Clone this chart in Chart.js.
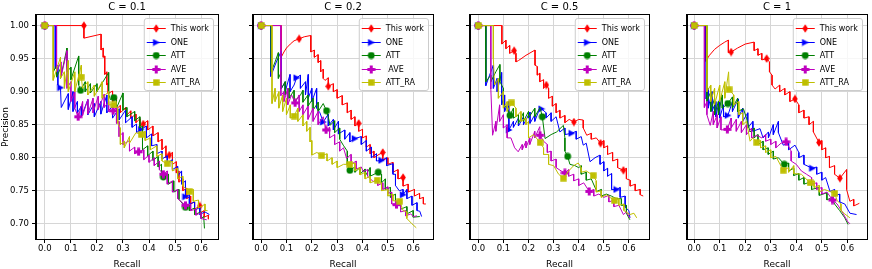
<!DOCTYPE html>
<html>
<head>
<meta charset="utf-8">
<script src="https://cdn.jsdelivr.net/npm/chart.js@4.4.1/dist/chart.umd.min.js"></script>
<style>
  body { margin: 0; background: #fff; }
  #wrap { position: relative; width: 872px; height: 269px; overflow: hidden; }
  #wrap canvas { position: absolute; top: 0; }
</style>
</head>
<body>
<div id="wrap">
  <canvas id="p0" width="224" height="269" style="left:0px"></canvas>
  <canvas id="p1" width="190" height="269" style="left:247px"></canvas>
  <canvas id="p2" width="189" height="269" style="left:464px"></canvas>
  <canvas id="p3" width="190" height="269" style="left:681px"></canvas>
</div>
<script>
// ---- data (recall, precision) ----
const panelTitles = ['C = 0.1', 'C = 0.2', 'C = 0.5', 'C = 1'];
const seriesNames = ['This work', 'ONE', 'ATT', 'AVE', 'ATT_RA'];
const seriesNamesC02 = ['This work', 'ONE', 'ATT', ' AVE', 'ATT_RA'];
const xTicks = [0.0, 0.1, 0.2, 0.3, 0.4, 0.5, 0.6];
const yTicks = [0.70, 0.75, 0.80, 0.85, 0.90, 0.95, 1.00];

// C = 0.1
const c01_thisWork = [[0,1],[0.15,1],[0.15,0.981],[0.216,0.987],[0.216,0.963],[0.224,0.966],[0.224,0.952],[0.23,0.954],[0.23,0.926],[0.238,0.93],[0.238,0.91],[0.243,0.913],[0.243,0.897],[0.26,0.901],[0.26,0.885],[0.275,0.89],[0.275,0.874],[0.29,0.879],[0.29,0.868],[0.31,0.876],[0.31,0.862],[0.33,0.871],[0.33,0.86],[0.35,0.866],[0.35,0.853],[0.365,0.859],[0.365,0.848],[0.378,0.851],[0.395,0.856],[0.395,0.842],[0.415,0.848],[0.415,0.833],[0.435,0.838],[0.435,0.824],[0.45,0.828],[0.45,0.812],[0.465,0.818],[0.465,0.8],[0.478,0.804],[0.49,0.808],[0.49,0.79],[0.505,0.794],[0.505,0.777],[0.515,0.78],[0.515,0.763],[0.53,0.768],[0.53,0.75],[0.545,0.754],[0.545,0.738],[0.56,0.742],[0.56,0.73],[0.575,0.733],[0.575,0.722],[0.595,0.727],[0.595,0.716],[0.612,0.72],[0.612,0.71],[0.628,0.713],[0.628,0.707]];
const c01_one = [[0,1],[0.04,1],[0.04,0.935],[0.05,0.94],[0.05,0.91],[0.06,0.906],[0.063,0.876],[0.09,0.897],[0.09,0.873],[0.108,0.9],[0.108,0.87],[0.125,0.885],[0.125,0.868],[0.14,0.878],[0.14,0.862],[0.165,0.888],[0.165,0.865],[0.19,0.882],[0.19,0.862],[0.215,0.885],[0.215,0.866],[0.238,0.895],[0.238,0.868],[0.26,0.878],[0.26,0.86],[0.285,0.874],[0.285,0.857],[0.31,0.872],[0.31,0.853],[0.335,0.862],[0.335,0.846],[0.352,0.851],[0.352,0.838],[0.37,0.843],[0.39,0.848],[0.39,0.83],[0.41,0.836],[0.41,0.818],[0.43,0.82],[0.43,0.806],[0.45,0.81],[0.45,0.798],[0.47,0.803],[0.47,0.792],[0.49,0.797],[0.49,0.782],[0.51,0.787],[0.51,0.772],[0.525,0.78],[0.525,0.76],[0.54,0.765],[0.54,0.741],[0.555,0.744],[0.555,0.73],[0.575,0.733],[0.575,0.72],[0.595,0.725],[0.595,0.714],[0.615,0.718],[0.632,0.714]];
const c01_att = [[0,1],[0.033,1],[0.033,0.93],[0.045,0.94],[0.045,0.922],[0.06,0.935],[0.06,0.92],[0.085,0.966],[0.085,0.93],[0.1,0.937],[0.1,0.918],[0.13,0.954],[0.13,0.91],[0.137,0.902],[0.155,0.915],[0.155,0.9],[0.175,0.912],[0.175,0.898],[0.2,0.912],[0.2,0.9],[0.245,0.929],[0.245,0.896],[0.252,0.888],[0.265,0.891],[0.275,0.887],[0.275,0.875],[0.3,0.898],[0.3,0.872],[0.315,0.876],[0.315,0.862],[0.345,0.87],[0.345,0.856],[0.365,0.862],[0.365,0.845],[0.375,0.848],[0.375,0.812],[0.395,0.818],[0.395,0.803],[0.415,0.81],[0.415,0.796],[0.435,0.802],[0.435,0.786],[0.448,0.79],[0.448,0.772],[0.455,0.771],[0.475,0.775],[0.475,0.76],[0.495,0.765],[0.495,0.748],[0.515,0.752],[0.515,0.737],[0.54,0.725],[0.555,0.728],[0.555,0.72],[0.575,0.724],[0.575,0.714],[0.6,0.718],[0.6,0.708],[0.61,0.711],[0.613,0.693]];
const c01_ave = [[0,1],[0.045,1],[0.045,0.93],[0.062,0.945],[0.062,0.922],[0.085,0.962],[0.085,0.905],[0.1,0.915],[0.1,0.885],[0.115,0.9],[0.115,0.875],[0.128,0.862],[0.145,0.885],[0.145,0.864],[0.165,0.888],[0.165,0.866],[0.185,0.89],[0.185,0.868],[0.205,0.893],[0.205,0.873],[0.228,0.896],[0.228,0.876],[0.245,0.885],[0.245,0.87],[0.262,0.871],[0.275,0.876],[0.275,0.852],[0.285,0.855],[0.285,0.832],[0.3,0.838],[0.3,0.82],[0.325,0.826],[0.325,0.81],[0.345,0.816],[0.345,0.806],[0.36,0.809],[0.38,0.812],[0.38,0.797],[0.4,0.804],[0.4,0.793],[0.42,0.8],[0.42,0.788],[0.44,0.795],[0.44,0.782],[0.455,0.775],[0.47,0.78],[0.47,0.76],[0.49,0.765],[0.49,0.748],[0.51,0.752],[0.51,0.738],[0.54,0.728],[0.56,0.73],[0.56,0.72],[0.58,0.722],[0.58,0.713],[0.6,0.717],[0.6,0.708],[0.622,0.706]];
const c01_attRa = [[0,1],[0.032,1],[0.032,0.917],[0.06,0.952],[0.06,0.92],[0.075,0.93],[0.075,0.905],[0.09,0.947],[0.09,0.9],[0.115,0.93],[0.115,0.9],[0.14,0.94],[0.14,0.922],[0.145,0.905],[0.165,0.915],[0.165,0.895],[0.19,0.91],[0.19,0.893],[0.22,0.915],[0.22,0.89],[0.245,0.9],[0.245,0.88],[0.265,0.88],[0.28,0.874],[0.28,0.852],[0.29,0.845],[0.29,0.82],[0.305,0.825],[0.305,0.815],[0.325,0.832],[0.325,0.822],[0.35,0.838],[0.37,0.835],[0.385,0.84],[0.385,0.826],[0.405,0.83],[0.405,0.812],[0.43,0.818],[0.43,0.802],[0.45,0.806],[0.45,0.795],[0.47,0.791],[0.49,0.795],[0.49,0.78],[0.51,0.784],[0.51,0.768],[0.53,0.772],[0.53,0.757],[0.555,0.749],[0.57,0.752],[0.57,0.734],[0.59,0.736],[0.59,0.724],[0.605,0.727],[0.615,0.73],[0.615,0.72],[0.625,0.72]];
const c01_marks = [
  [[0,1],[0.15,1],[0.378,0.851],[0.478,0.804],[0.595,0.727]],
  [[0,1],[0.06,0.906],[0.37,0.843],[0.54,0.741]],
  [[0,1],[0.137,0.902],[0.265,0.891],[0.455,0.771],[0.54,0.725]],
  [[0,1],[0.128,0.862],[0.262,0.871],[0.36,0.809],[0.455,0.775],[0.54,0.728]],
  [[0,1],[0.14,0.922],[0.265,0.88],[0.37,0.835],[0.47,0.791],[0.555,0.749]]
];

// C = 0.2
const c02_thisWork = [[0,1],[0.079,1],[0.079,0.952],[0.09,0.96],[0.1,0.966],[0.115,0.972],[0.13,0.977],[0.15,0.98],[0.17,0.983],[0.196,0.985],[0.196,0.96],[0.21,0.963],[0.21,0.952],[0.225,0.956],[0.225,0.944],[0.235,0.947],[0.235,0.93],[0.245,0.934],[0.245,0.92],[0.252,0.917],[0.265,0.921],[0.265,0.908],[0.285,0.912],[0.285,0.9],[0.3,0.903],[0.3,0.89],[0.32,0.894],[0.32,0.88],[0.34,0.883],[0.34,0.868],[0.355,0.872],[0.355,0.858],[0.37,0.862],[0.37,0.848],[0.385,0.852],[0.385,0.84],[0.4,0.843],[0.4,0.83],[0.415,0.833],[0.415,0.816],[0.43,0.82],[0.43,0.806],[0.445,0.81],[0.445,0.8],[0.465,0.805],[0.48,0.808],[0.48,0.796],[0.5,0.8],[0.5,0.79],[0.52,0.793],[0.52,0.778],[0.54,0.782],[0.54,0.768],[0.56,0.77],[0.56,0.757],[0.58,0.76],[0.58,0.748],[0.605,0.752],[0.605,0.742],[0.625,0.746],[0.625,0.738],[0.64,0.74],[0.64,0.73],[0.65,0.73]];
const c02_one = [[0,1],[0.038,1],[0.038,0.923],[0.06,0.945],[0.079,0.961],[0.079,0.904],[0.095,0.915],[0.095,0.9],[0.114,0.926],[0.114,0.9],[0.13,0.91],[0.14,0.921],[0.155,0.925],[0.155,0.905],[0.175,0.915],[0.175,0.895],[0.186,0.926],[0.186,0.89],[0.2,0.905],[0.2,0.885],[0.219,0.905],[0.219,0.875],[0.232,0.868],[0.245,0.854],[0.265,0.866],[0.265,0.848],[0.285,0.858],[0.285,0.842],[0.305,0.855],[0.305,0.836],[0.33,0.842],[0.33,0.828],[0.35,0.838],[0.35,0.824],[0.37,0.829],[0.395,0.832],[0.395,0.82],[0.415,0.826],[0.415,0.81],[0.435,0.816],[0.435,0.8],[0.455,0.806],[0.455,0.795],[0.475,0.796],[0.495,0.8],[0.495,0.788],[0.52,0.791],[0.52,0.775],[0.53,0.775],[0.53,0.758],[0.545,0.75],[0.56,0.752],[0.56,0.744],[0.575,0.752],[0.575,0.738],[0.595,0.742],[0.595,0.728],[0.615,0.732],[0.615,0.72],[0.626,0.719],[0.633,0.711]];
const c02_att = [[0,1],[0.04,1],[0.04,0.93],[0.055,0.945],[0.068,0.959],[0.068,0.92],[0.08,0.93],[0.08,0.905],[0.095,0.915],[0.095,0.895],[0.11,0.905],[0.11,0.89],[0.13,0.902],[0.13,0.885],[0.154,0.894],[0.165,0.902],[0.165,0.884],[0.185,0.895],[0.185,0.878],[0.205,0.89],[0.205,0.872],[0.225,0.884],[0.225,0.87],[0.245,0.882],[0.258,0.871],[0.265,0.862],[0.272,0.849],[0.29,0.856],[0.29,0.838],[0.31,0.845],[0.31,0.828],[0.324,0.819],[0.34,0.81],[0.34,0.79],[0.35,0.781],[0.37,0.786],[0.37,0.778],[0.39,0.785],[0.39,0.775],[0.41,0.783],[0.41,0.772],[0.43,0.785],[0.43,0.772],[0.462,0.778],[0.475,0.775],[0.475,0.762],[0.49,0.768],[0.49,0.752],[0.51,0.755],[0.51,0.74],[0.53,0.745],[0.53,0.73],[0.55,0.734],[0.55,0.722],[0.575,0.726],[0.575,0.715],[0.6,0.72],[0.6,0.71],[0.626,0.711]];
const c02_ave = [[0,1],[0.078,1],[0.078,0.894],[0.09,0.9],[0.09,0.885],[0.105,0.905],[0.105,0.88],[0.12,0.895],[0.134,0.883],[0.15,0.895],[0.15,0.87],[0.165,0.88],[0.165,0.865],[0.185,0.878],[0.185,0.858],[0.205,0.875],[0.205,0.855],[0.225,0.87],[0.225,0.85],[0.245,0.862],[0.256,0.842],[0.27,0.846],[0.27,0.83],[0.29,0.835],[0.29,0.82],[0.31,0.824],[0.31,0.81],[0.325,0.815],[0.337,0.799],[0.355,0.805],[0.355,0.79],[0.375,0.795],[0.375,0.783],[0.395,0.786],[0.403,0.779],[0.42,0.782],[0.42,0.772],[0.442,0.764],[0.46,0.768],[0.46,0.758],[0.48,0.762],[0.48,0.752],[0.5,0.756],[0.5,0.746],[0.515,0.748],[0.515,0.73],[0.534,0.729],[0.55,0.73],[0.55,0.718],[0.57,0.72],[0.57,0.712],[0.59,0.715],[0.6,0.711],[0.615,0.712]];
const c02_attRa = [[0,1],[0.043,1],[0.043,0.882],[0.055,0.905],[0.055,0.885],[0.07,0.9],[0.07,0.875],[0.085,0.895],[0.085,0.87],[0.1,0.89],[0.1,0.865],[0.115,0.88],[0.115,0.86],[0.13,0.863],[0.145,0.875],[0.145,0.855],[0.165,0.865],[0.165,0.848],[0.18,0.855],[0.18,0.84],[0.193,0.846],[0.193,0.824],[0.2,0.826],[0.2,0.804],[0.22,0.808],[0.239,0.803],[0.26,0.806],[0.26,0.795],[0.28,0.8],[0.28,0.79],[0.3,0.795],[0.3,0.785],[0.325,0.79],[0.35,0.79],[0.37,0.792],[0.37,0.78],[0.39,0.785],[0.39,0.774],[0.41,0.778],[0.41,0.768],[0.43,0.772],[0.43,0.762],[0.458,0.766],[0.475,0.762],[0.475,0.75],[0.5,0.752],[0.5,0.742],[0.52,0.745],[0.52,0.735],[0.547,0.734],[0.56,0.72],[0.575,0.718],[0.575,0.708],[0.595,0.7],[0.612,0.694]];
const c02_marks = [
  [[0,1],[0.15,0.98],[0.265,0.908],[0.385,0.852],[0.48,0.808],[0.56,0.77]],
  [[0,1],[0.14,0.921],[0.245,0.854],[0.37,0.829],[0.475,0.796],[0.56,0.744]],
  [[0,1],[0.258,0.871],[0.35,0.781],[0.462,0.778]],
  [[0,1],[0.134,0.883],[0.256,0.842],[0.534,0.729]],
  [[0,1],[0.13,0.863],[0.239,0.803],[0.35,0.79],[0.458,0.766],[0.547,0.734]]
];

// C = 0.5
const c05_thisWork = [[0,1],[0.094,1],[0.094,0.972],[0.11,0.978],[0.11,0.965],[0.125,0.97],[0.125,0.958],[0.143,0.962],[0.15,0.958],[0.15,0.945],[0.16,0.947],[0.19,0.955],[0.226,0.963],[0.226,0.94],[0.235,0.938],[0.235,0.925],[0.245,0.928],[0.245,0.915],[0.26,0.918],[0.26,0.905],[0.271,0.91],[0.28,0.905],[0.28,0.89],[0.295,0.893],[0.295,0.878],[0.31,0.882],[0.31,0.868],[0.325,0.872],[0.325,0.86],[0.345,0.864],[0.345,0.853],[0.362,0.858],[0.381,0.854],[0.4,0.858],[0.418,0.857],[0.418,0.845],[0.432,0.834],[0.45,0.837],[0.45,0.828],[0.47,0.83],[0.487,0.822],[0.5,0.826],[0.5,0.815],[0.515,0.818],[0.515,0.805],[0.535,0.808],[0.535,0.795],[0.555,0.798],[0.555,0.785],[0.578,0.781],[0.59,0.784],[0.59,0.768],[0.605,0.766],[0.605,0.757],[0.625,0.76],[0.625,0.75],[0.645,0.752],[0.645,0.744],[0.657,0.742]];
const c05_one = [[0,1],[0.03,1],[0.03,0.909],[0.045,0.925],[0.06,0.94],[0.06,0.905],[0.075,0.92],[0.075,0.9],[0.093,0.929],[0.093,0.88],[0.105,0.895],[0.105,0.87],[0.12,0.885],[0.122,0.842],[0.14,0.855],[0.14,0.846],[0.16,0.86],[0.16,0.848],[0.18,0.862],[0.18,0.85],[0.206,0.869],[0.206,0.852],[0.225,0.865],[0.225,0.855],[0.24,0.87],[0.252,0.874],[0.27,0.868],[0.27,0.86],[0.29,0.868],[0.29,0.855],[0.31,0.862],[0.325,0.839],[0.345,0.845],[0.345,0.835],[0.372,0.837],[0.39,0.84],[0.39,0.828],[0.41,0.832],[0.418,0.819],[0.43,0.822],[0.445,0.794],[0.465,0.8],[0.485,0.804],[0.485,0.79],[0.5,0.794],[0.5,0.78],[0.515,0.784],[0.515,0.772],[0.531,0.776],[0.531,0.752],[0.551,0.752],[0.565,0.755],[0.565,0.74],[0.585,0.742],[0.585,0.725],[0.6,0.72],[0.604,0.709]];
const c05_att = [[0,1],[0.03,1],[0.03,0.915],[0.05,0.925],[0.05,0.915],[0.07,0.93],[0.086,0.941],[0.086,0.915],[0.1,0.905],[0.1,0.88],[0.115,0.875],[0.126,0.864],[0.14,0.875],[0.14,0.86],[0.16,0.865],[0.16,0.852],[0.18,0.868],[0.18,0.855],[0.2,0.87],[0.2,0.86],[0.225,0.875],[0.225,0.862],[0.246,0.876],[0.255,0.862],[0.266,0.829],[0.29,0.835],[0.312,0.839],[0.339,0.849],[0.345,0.83],[0.345,0.81],[0.356,0.802],[0.365,0.79],[0.385,0.788],[0.4,0.785],[0.41,0.788],[0.41,0.775],[0.43,0.778],[0.43,0.766],[0.45,0.768],[0.472,0.749],[0.49,0.752],[0.49,0.742],[0.51,0.745],[0.53,0.742],[0.55,0.738],[0.57,0.738],[0.57,0.728],[0.59,0.728],[0.59,0.716],[0.604,0.706]];
const c05_ave = [[0,1],[0.05,1],[0.05,0.904],[0.057,0.834],[0.07,0.855],[0.07,0.84],[0.085,0.88],[0.085,0.855],[0.1,0.865],[0.1,0.845],[0.115,0.85],[0.115,0.83],[0.13,0.83],[0.145,0.815],[0.159,0.809],[0.175,0.82],[0.175,0.812],[0.19,0.825],[0.19,0.815],[0.205,0.83],[0.205,0.82],[0.225,0.84],[0.225,0.83],[0.245,0.847],[0.246,0.834],[0.26,0.825],[0.275,0.82],[0.275,0.808],[0.29,0.81],[0.29,0.795],[0.31,0.798],[0.31,0.785],[0.33,0.78],[0.345,0.777],[0.36,0.782],[0.36,0.772],[0.38,0.775],[0.38,0.765],[0.4,0.768],[0.4,0.758],[0.42,0.762],[0.442,0.749],[0.46,0.752],[0.46,0.742],[0.48,0.745],[0.5,0.74],[0.52,0.743],[0.52,0.733],[0.54,0.736],[0.54,0.726],[0.56,0.728],[0.578,0.714],[0.59,0.718],[0.604,0.709]];
const c05_attRa = [[0,1],[0.06,1],[0.06,0.95],[0.065,0.91],[0.08,0.92],[0.08,0.89],[0.1,0.9],[0.1,0.875],[0.115,0.885],[0.115,0.87],[0.133,0.883],[0.15,0.875],[0.15,0.862],[0.17,0.87],[0.17,0.855],[0.19,0.86],[0.19,0.85],[0.2,0.855],[0.2,0.83],[0.22,0.835],[0.246,0.823],[0.26,0.815],[0.26,0.805],[0.28,0.805],[0.28,0.79],[0.3,0.788],[0.32,0.775],[0.339,0.769],[0.36,0.78],[0.38,0.788],[0.398,0.792],[0.41,0.785],[0.41,0.778],[0.43,0.78],[0.458,0.773],[0.47,0.765],[0.47,0.748],[0.49,0.75],[0.49,0.74],[0.51,0.744],[0.542,0.735],[0.56,0.738],[0.56,0.728],[0.58,0.73],[0.58,0.72],[0.604,0.714],[0.62,0.716],[0.631,0.709]];
const c05_marks = [
  [[0,1],[0.143,0.962],[0.271,0.91],[0.381,0.854],[0.487,0.822],[0.578,0.781]],
  [[0,1],[0.122,0.842],[0.252,0.874],[0.372,0.837],[0.551,0.752]],
  [[0,1],[0.126,0.864],[0.255,0.862],[0.356,0.802]],
  [[0,1],[0.246,0.834],[0.345,0.777],[0.442,0.749]],
  [[0,1],[0.133,0.883],[0.246,0.823],[0.339,0.769],[0.458,0.773],[0.542,0.735]]
];

// C = 1
const c1_thisWork = [[0,1],[0.045,1],[0.045,0.946],[0.06,0.955],[0.08,0.964],[0.1,0.97],[0.12,0.975],[0.134,0.978],[0.134,0.959],[0.145,0.96],[0.17,0.966],[0.2,0.972],[0.235,0.975],[0.235,0.962],[0.25,0.965],[0.25,0.955],[0.265,0.958],[0.265,0.948],[0.284,0.95],[0.295,0.945],[0.295,0.93],[0.305,0.925],[0.305,0.91],[0.317,0.904],[0.335,0.91],[0.335,0.9],[0.355,0.905],[0.355,0.895],[0.375,0.9],[0.375,0.885],[0.395,0.889],[0.41,0.88],[0.41,0.868],[0.43,0.872],[0.43,0.86],[0.45,0.862],[0.45,0.85],[0.467,0.855],[0.467,0.839],[0.489,0.823],[0.5,0.826],[0.5,0.812],[0.515,0.815],[0.515,0.8],[0.53,0.802],[0.53,0.785],[0.55,0.788],[0.55,0.775],[0.571,0.769],[0.597,0.782],[0.597,0.752],[0.61,0.734],[0.625,0.737],[0.625,0.727],[0.647,0.731]];
const c1_one = [[0,1],[0.047,1],[0.047,0.889],[0.055,0.905],[0.055,0.875],[0.07,0.9],[0.07,0.87],[0.085,0.885],[0.085,0.862],[0.1,0.89],[0.1,0.86],[0.115,0.88],[0.115,0.862],[0.132,0.864],[0.15,0.885],[0.15,0.87],[0.173,0.889],[0.173,0.86],[0.19,0.875],[0.19,0.855],[0.21,0.868],[0.21,0.845],[0.23,0.855],[0.23,0.84],[0.258,0.844],[0.27,0.83],[0.291,0.839],[0.291,0.83],[0.31,0.85],[0.31,0.835],[0.33,0.855],[0.33,0.838],[0.349,0.819],[0.37,0.822],[0.37,0.812],[0.395,0.819],[0.41,0.808],[0.41,0.8],[0.43,0.804],[0.43,0.79],[0.463,0.784],[0.48,0.786],[0.48,0.775],[0.5,0.778],[0.5,0.766],[0.515,0.77],[0.532,0.749],[0.55,0.752],[0.55,0.742],[0.57,0.745],[0.57,0.733],[0.59,0.73],[0.61,0.716],[0.636,0.714]];
const c1_att = [[0,1],[0.05,1],[0.05,0.885],[0.065,0.9],[0.065,0.87],[0.08,0.89],[0.08,0.865],[0.095,0.885],[0.095,0.865],[0.11,0.895],[0.11,0.875],[0.132,0.882],[0.15,0.892],[0.15,0.875],[0.17,0.89],[0.17,0.87],[0.193,0.874],[0.205,0.86],[0.219,0.839],[0.235,0.845],[0.235,0.83],[0.25,0.835],[0.25,0.82],[0.27,0.825],[0.27,0.812],[0.29,0.815],[0.29,0.805],[0.31,0.81],[0.31,0.798],[0.33,0.8],[0.353,0.79],[0.37,0.792],[0.37,0.78],[0.39,0.784],[0.39,0.773],[0.41,0.776],[0.41,0.766],[0.43,0.77],[0.43,0.76],[0.46,0.764],[0.46,0.752],[0.49,0.755],[0.49,0.743],[0.52,0.747],[0.52,0.736],[0.54,0.74],[0.55,0.73],[0.57,0.72],[0.59,0.709],[0.603,0.699]];
const c1_ave = [[0,1],[0.04,1],[0.04,0.876],[0.05,0.885],[0.05,0.865],[0.063,0.849],[0.075,0.87],[0.075,0.85],[0.09,0.865],[0.09,0.845],[0.105,0.862],[0.105,0.842],[0.13,0.843],[0.145,0.86],[0.145,0.845],[0.165,0.858],[0.165,0.84],[0.185,0.855],[0.185,0.838],[0.205,0.85],[0.205,0.835],[0.225,0.845],[0.225,0.83],[0.245,0.834],[0.265,0.83],[0.28,0.835],[0.28,0.825],[0.3,0.828],[0.3,0.82],[0.32,0.825],[0.32,0.815],[0.34,0.822],[0.36,0.824],[0.38,0.81],[0.38,0.795],[0.4,0.79],[0.42,0.78],[0.44,0.775],[0.46,0.77],[0.46,0.76],[0.48,0.762],[0.48,0.752],[0.5,0.755],[0.5,0.745],[0.52,0.748],[0.542,0.736],[0.56,0.73],[0.58,0.718],[0.6,0.704],[0.61,0.7]];
const c1_attRa = [[0,1],[0.05,1],[0.05,0.9],[0.065,0.91],[0.065,0.885],[0.08,0.905],[0.08,0.88],[0.1,0.91],[0.1,0.885],[0.12,0.915],[0.12,0.89],[0.135,0.93],[0.137,0.903],[0.155,0.895],[0.155,0.88],[0.175,0.885],[0.175,0.865],[0.19,0.868],[0.19,0.85],[0.205,0.855],[0.219,0.825],[0.23,0.83],[0.245,0.823],[0.26,0.826],[0.26,0.815],[0.28,0.818],[0.28,0.808],[0.3,0.812],[0.3,0.8],[0.32,0.802],[0.349,0.781],[0.37,0.785],[0.37,0.778],[0.39,0.788],[0.39,0.776],[0.42,0.775],[0.454,0.762],[0.47,0.765],[0.47,0.755],[0.49,0.758],[0.49,0.748],[0.51,0.752],[0.551,0.746],[0.56,0.735],[0.575,0.73],[0.575,0.72],[0.59,0.715],[0.61,0.709]];
const c1_marks = [
  [[0,1],[0.145,0.96],[0.284,0.95],[0.395,0.889],[0.489,0.823],[0.571,0.769]],
  [[0,1],[0.132,0.864],[0.463,0.784]],
  [[0,1],[0.132,0.882],[0.353,0.79]],
  [[0,1],[0.13,0.843],[0.36,0.824],[0.542,0.736]],
  [[0,1],[0.137,0.903],[0.245,0.823],[0.349,0.781],[0.454,0.762],[0.551,0.746]]
];

// ---- styling ----
const colors = ['#ff0000', '#0000ff', '#008000', '#bf00bf', '#bfbf00'];
const shapes = ['thinDiamond', 'triangleRight', 'circle', 'plus', 'square'];
const FONT = 'DejaVu Sans';

Chart.defaults.font.family = FONT;
Chart.defaults.animation = false;

function makeMarker(shape, color) {
  const c = document.createElement('canvas');
  const size = { thinDiamond: [6, 9], triangleRight: [8, 8], circle: [8, 8], plus: [9, 9], square: [7, 7] }[shape];
  c.width = size[0]; c.height = size[1];
  const g = c.getContext('2d');
  g.fillStyle = color;
  g.beginPath();
  if (shape === 'thinDiamond') {
    g.moveTo(3, 0.3); g.lineTo(5.8, 4.5); g.lineTo(3, 8.7); g.lineTo(0.2, 4.5);
  } else if (shape === 'triangleRight') {
    g.moveTo(0.8, 0.5); g.lineTo(7.6, 4); g.lineTo(0.8, 7.5);
  } else if (shape === 'circle') {
    g.arc(4, 4, 3.4, 0, Math.PI * 2);
  } else if (shape === 'plus') {
    g.rect(3, 0.5, 3, 8); g.rect(0.5, 3, 8, 3);
  } else {
    g.rect(0.3, 0.3, 6.4, 6.4);
  }
  g.closePath();
  g.fill();
  return c;
}
const markers = shapes.map((s, i) => makeMarker(s, colors[i]));

const panels = [
  { id: 'p0', title: panelTitles[0], names: seriesNames,
    lines: [c01_thisWork, c01_one, c01_att, c01_ave, c01_attRa], marks: c01_marks,
    xMin: -0.034, xMax: 0.665, yAxisW: 36, padRight: 6, first: true },
  { id: 'p1', title: panelTitles[1], names: seriesNamesC02,
    lines: [c02_thisWork, c02_one, c02_att, c02_ave, c02_attRa], marks: c02_marks,
    xMin: -0.032, xMax: 0.678, yAxisW: 6, padRight: 4, first: false },
  { id: 'p2', title: panelTitles[2], names: seriesNames,
    lines: [c05_thisWork, c05_one, c05_att, c05_ave, c05_attRa], marks: c05_marks,
    xMin: -0.033, xMax: 0.68, yAxisW: 6, padRight: 4, first: false },
  { id: 'p3', title: panelTitles[3], names: seriesNames,
    lines: [c1_thisWork, c1_one, c1_att, c1_ave, c1_attRa], marks: c1_marks,
    xMin: -0.028, xMax: 0.677, yAxisW: 6, padRight: 4, first: false }
];

// frame, title and the legend box inside the axes
const framePlugin = {
  id: 'frame',
  afterDraw(chart, args, opts) {
    const { ctx, chartArea: a } = chart;
    ctx.save();
    ctx.strokeStyle = '#000';
    ctx.lineWidth = 1;
    ctx.strokeRect(Math.round(a.left) - 0.5, Math.round(a.top) - 0.5,
                   Math.round(a.right - a.left) + 1, Math.round(a.bottom - a.top) + 1);

    ctx.fillStyle = '#000';
    ctx.font = '10px "' + FONT + '"';
    ctx.textAlign = 'center';
    ctx.textBaseline = 'middle';
    ctx.fillText(opts.title, (a.left + a.right) / 2, 7.5);

    // legend
    ctx.font = '8px "' + FONT + '"';
    const names = opts.names;
    const tw = Math.max(...names.map(n => ctx.measureText(n).width));
    const w = tw + 31, h = 72;
    const x0 = a.right - 5 - w, y0 = a.top + 3;
    ctx.beginPath();
    ctx.roundRect(x0 + 0.5, y0 + 0.5, w, h, 2.5);
    ctx.fillStyle = 'rgba(255,255,255,0.8)';
    ctx.fill();
    ctx.strokeStyle = '#cccccc';
    ctx.stroke();
    names.forEach((n, i) => {
      const y = Math.round(y0 + 10 + i * 13.5) + 0.5;
      ctx.strokeStyle = colors[i];
      ctx.lineWidth = 1;
      ctx.beginPath();
      ctx.moveTo(x0 + 3, y); ctx.lineTo(x0 + 22, y);
      ctx.stroke();
      const m = markers[i];
      ctx.drawImage(m, x0 + 12.5 - m.width / 2, y - m.height / 2);
      ctx.fillStyle = '#000';
      ctx.textAlign = 'left';
      ctx.fillText(n, x0 + 27, y);
    });
    ctx.restore();
  }
};

panels.forEach(p => {
  const datasets = [];
  p.lines.forEach((pts, i) => {
    datasets.push({
      data: pts.map(([x, y]) => ({ x, y })),
      borderColor: colors[i],
      borderWidth: 1,
      pointRadius: 0,
      pointHoverRadius: 0,
      fill: false,
      tension: 0,
      order: 10 - 2 * i + 1
    });
    datasets.push({
      data: p.marks[i].map(([x, y]) => ({ x, y })),
      showLine: false,
      pointStyle: markers[i],
      pointRadius: 3,
      pointHoverRadius: 3,
      order: 10 - 2 * i
    });
  });

  new Chart(document.getElementById(p.id), {
    type: 'line',
    data: { datasets },
    options: {
      responsive: false,
      animation: false,
      events: [],
      layout: { padding: { top: 15, right: p.padRight, left: 0, bottom: 0 } },
      plugins: {
        legend: { display: false },
        tooltip: { enabled: false },
        frame: { title: p.title, names: p.names }
      },
      scales: {
        x: {
          type: 'linear',
          min: p.xMin, max: p.xMax,
          afterBuildTicks: s => { s.ticks = xTicks.map(v => ({ value: v })); },
          afterFit: s => { s.height = 30; },
          ticks: { callback: v => v.toFixed(1), color: '#000', font: { size: 8.5 }, padding: 1, maxRotation: 0, autoSkip: false },
          grid: { color: '#d6d6d6', lineWidth: 1, tickColor: '#000', tickLength: 4 },
          border: { color: '#000', width: 1 },
          title: { display: true, text: 'Recall', color: '#000', font: { size: 9 }, padding: { top: 0, bottom: -1 } }
        },
        y: {
          type: 'linear',
          min: 0.677, max: 1.016,
          afterBuildTicks: s => { s.ticks = yTicks.map(v => ({ value: v })); },
          afterFit: s => { s.width = p.yAxisW; },
          ticks: { callback: v => p.first ? v.toFixed(2) : '', color: '#000', font: { size: 8.5 }, padding: 3 },
          grid: { color: '#d6d6d6', lineWidth: 1, tickColor: '#000', tickLength: 4 },
          border: { color: '#000', width: 1 },
          title: { display: p.first, text: 'Precision', color: '#000', font: { size: 9 }, padding: { top: 0, bottom: 0 } }
        }
      }
    },
    plugins: [framePlugin]
  });
});
</script>
</body>
</html>
